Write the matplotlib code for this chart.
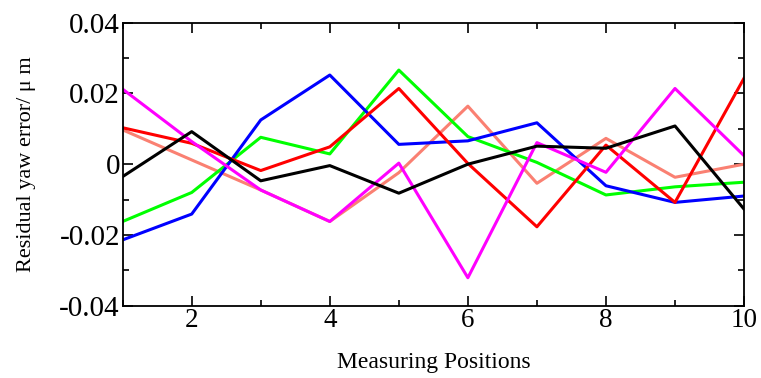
import matplotlib.pyplot as plt
from matplotlib.ticker import MultipleLocator, FixedLocator

plt.rcParams['font.family'] = ['Liberation Serif', 'DejaVu Serif']

# Data
positions = [1, 2, 3, 4, 5, 6, 7, 8, 9, 10]
red = [0.0103, 0.0059, -0.0018, 0.0049, 0.0214, 0.0002, -0.0177, 0.0054, -0.0108, 0.0243]
pink = [0.0097, 0.0012, -0.0073, -0.0162, -0.0024, 0.0164, -0.0054, 0.0073, -0.0037, 0.0000]
green = [-0.0162, -0.0080, 0.0076, 0.0029, 0.0266, 0.0078, 0.0005, -0.0087, -0.0064, -0.0051]
blue = [-0.0214, -0.0141, 0.0125, 0.0252, 0.0056, 0.0066, 0.0117, -0.0061, -0.0108, -0.0090]
magenta = [0.0212, 0.0064, -0.0073, -0.0162, 0.0003, -0.0321, 0.0061, -0.0023, 0.0214, 0.0024]
black = [-0.0035, 0.0092, -0.0047, -0.0004, -0.0082, 0.0000, 0.0051, 0.0045, 0.0108, -0.0127]

y_ticks = [-0.04, -0.02, 0, 0.02, 0.04]
y_labels = ['-0.04', '-0.02', '0', '0.02', '0.04']

fig = plt.figure(figsize=(7.61, 3.78), dpi=100)
ax = fig.add_axes([0.1612, 0.1913, 0.8165, 0.7487])

lw = 2.2
ax.plot(positions, pink, color='#fa8072', lw=lw)
ax.plot(positions, green, color='#00ff00', lw=lw)
ax.plot(positions, blue, color='#0000ff', lw=lw)
ax.plot(positions, red, color='#ff0000', lw=lw)
ax.plot(positions, magenta, color='#ff00ff', lw=lw)
ax.plot(positions, black, color='#000000', lw=lw)

ax.set_xlim(1, 10)
ax.set_ylim(-0.04, 0.04)

ax.xaxis.set_major_locator(FixedLocator([2, 4, 6, 8, 10]))
ax.xaxis.set_minor_locator(MultipleLocator(1))
ax.set_yticks(y_ticks)
ax.set_yticklabels(y_labels)
ax.yaxis.set_minor_locator(MultipleLocator(0.01))

ax.tick_params(which='both', direction='in', top=True, right=True, width=1.2)
ax.tick_params(which='major', length=7.5)
ax.tick_params(which='minor', length=4)
ax.tick_params(axis='x', pad=2, labelsize=19.5)
ax.tick_params(axis='y', pad=2, labelsize=21)
for s in ax.spines.values():
    s.set_linewidth(1.3)

ax.set_xlabel('Measuring Positions', fontsize=17)
ax.set_ylabel('Residual yaw error/ μ m', fontsize=16)
ax.xaxis.set_label_coords(0.5, -0.165)
ax.yaxis.set_label_coords(-0.139, 0.5)

fig.savefig('out.png', dpi=100)
